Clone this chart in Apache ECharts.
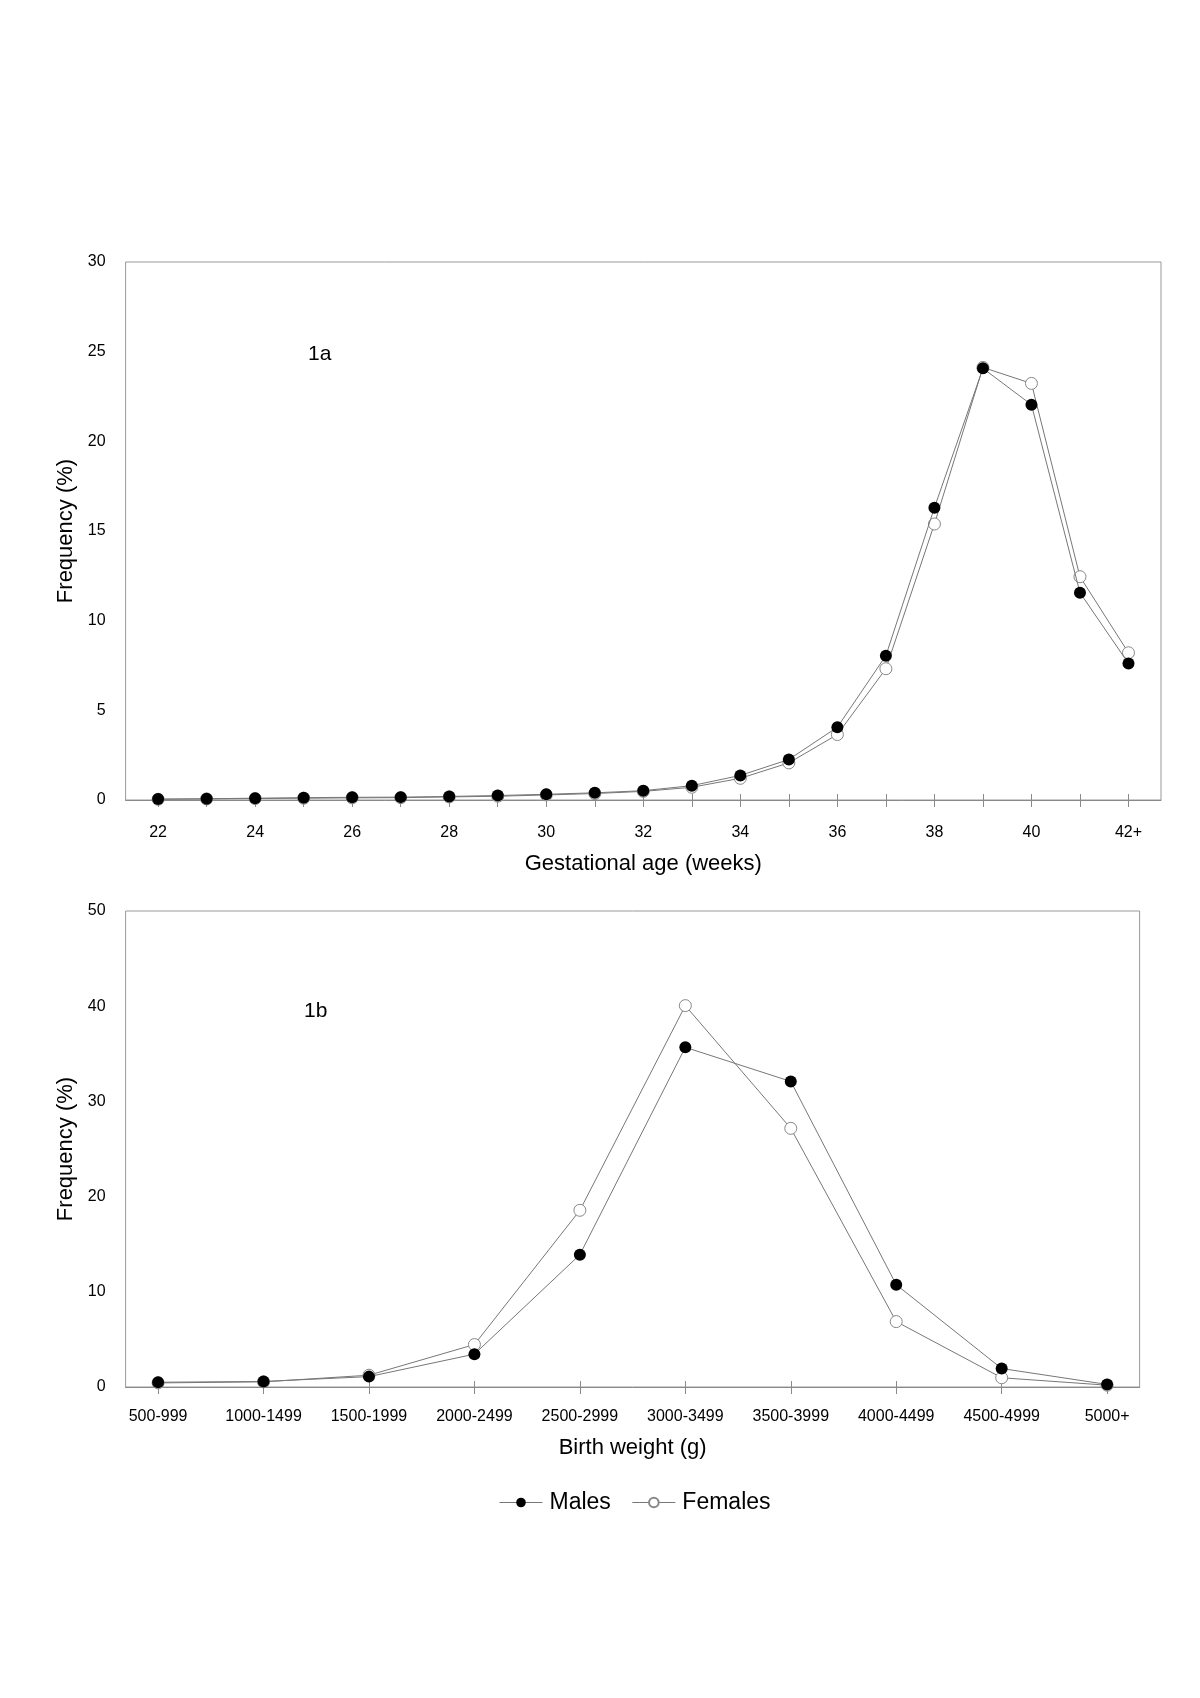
<!DOCTYPE html>
<html><head><meta charset="utf-8">
<script src="https://cdn.jsdelivr.net/npm/echarts@6/dist/echarts.min.js"></script>
<style>html,body{margin:0;padding:0;background:#fff}#c{width:1200px;height:1698px}</style>
</head><body><div id="c"></div>
<script>
// Panel 1a: gestational age
const weekLabels = ['22','23','24','25','26','27','28','29','30','31','32','33','34','35','36','37','38','39','40','41','42+'];
const weekShown = ['22','24','26','28','30','32','34','36','38','40','42+'];
const malesGA   = [0.05,0.07,0.10,0.13,0.15,0.16,0.20,0.25,0.32,0.40,0.52,0.80,1.37,2.26,4.06,8.05,16.30,24.07,22.04,11.56,7.61];
const femalesGA = [0.04,0.06,0.08,0.10,0.12,0.13,0.17,0.21,0.28,0.36,0.48,0.71,1.21,2.07,3.65,7.32,15.39,24.12,23.23,12.45,8.21];
const gaYTicks = [0,5,10,15,20,25,30];
// Panel 1b: birth weight
const bwLabels = ['500-999','1000-1499','1500-1999','2000-2499','2500-2999','3000-3499','3500-3999','4000-4499','4500-4999','5000+'];
const malesBW   = [0.50,0.58,1.09,3.45,13.9,35.68,32.1,10.75,1.94,0.27];
const femalesBW = [0.43,0.54,1.24,4.46,18.56,40.06,27.17,6.87,0.97,0.19];
const bwYTicks = [0,10,20,30,40,50];

const FONT = 'Liberation Sans, Arial, sans-serif';
const gray = '#8a8a8a';
const lineGray = '#777';

function xAxes(gridIndex, labels, shown, pad, margin, nameGap) {
  const n = labels.length;
  const all = labels.map((_, i) => i);
  const shownIdx = shown.map(s => labels.indexOf(s));
  const base = {
    type: 'value', gridIndex, position: 'bottom', min: -pad, max: n - 1 + pad,
    splitLine: { show: false }
  };
  return [
    Object.assign({}, base, {
      axisLine: { show: true, lineStyle: { color: gray, width: 1 } },
      axisTick: { show: true, inside: false, length: 7, customValues: all, lineStyle: { color: gray } },
      axisLabel: { show: true, customValues: shownIdx, margin: margin, color: '#000', fontSize: 16, fontFamily: FONT,
                   formatter: v => labels[Math.round(v)] },
      nameLocation: 'middle', nameGap: nameGap,
      nameTextStyle: { color: '#000', fontSize: 22, fontFamily: FONT }
    }),
    Object.assign({}, base, {
      axisLine: { show: false },
      axisTick: { show: true, inside: true, length: 6, customValues: all, lineStyle: { color: gray } },
      axisLabel: { show: false }
    })
  ];
}

const xa0 = xAxes(0, weekLabels, weekShown, 0.67, 25, 53);
xa0[0].name = 'Gestational age (weeks)';
const xa1 = xAxes(1, bwLabels, bwLabels, 0.308, 22, 50);
xa1[0].name = 'Birth weight (g)';

function yAxis(gridIndex, ticks) {
  return {
    type: 'value', gridIndex, min: ticks[0], max: ticks[ticks.length - 1], interval: ticks[1] - ticks[0],
    axisLine: { show: false }, axisTick: { show: false }, splitLine: { show: false },
    axisLabel: { color: '#000', fontSize: 16, fontFamily: FONT, margin: 20 },
    name: 'Frequency (%)', nameLocation: 'middle', nameGap: 48,
    nameTextStyle: { color: '#000', fontSize: 22, fontFamily: FONT }
  };
}

function ser(name, data, xi, yi, filled) {
  return {
    name, type: 'line', xAxisIndex: xi, yAxisIndex: yi,
    data: data.map((v, i) => [i, v]),
    symbol: 'circle', symbolSize: 12,
    lineStyle: { color: lineGray, width: 1 },
    itemStyle: filled ? { color: '#000', borderColor: '#000', borderWidth: 0 }
                      : { color: '#fff', borderColor: '#888', borderWidth: 1 },
    emphasis: { disabled: true }, animation: false, z: filled ? 3 : 2
  };
}

const chart = echarts.init(document.getElementById('c'), null, { renderer: 'canvas' });
chart.setOption({
  animation: false,
  backgroundColor: '#fff',
  textStyle: { fontFamily: FONT },
  grid: [
    { left: 125.6, top: 262, width: 1035.4, height: 538, show: true, borderColor: '#999', borderWidth: 1, containLabel: false },
    { left: 125.6, top: 911, width: 1014, height: 476, show: true, borderColor: '#999', borderWidth: 1, containLabel: false }
  ],
  xAxis: [...xa0, ...xa1],
  yAxis: [yAxis(0, gaYTicks), yAxis(1, bwYTicks)],
  legend: {
    left: 494, top: 1486, itemWidth: 43, itemHeight: 12, itemGap: 21,
    lineStyle: { width: 1, color: '#777' },
    textStyle: { color: '#000', fontSize: 23, fontFamily: FONT, padding: [0, 0, 0, 2] },
    data: ['Males', 'Females']
  },
  graphic: [
    { type: 'text', left: 308, top: 344, style: { text: '1a', fontSize: 21, fontFamily: FONT, fill: '#000' } },
    { type: 'text', left: 304, top: 1001, style: { text: '1b', fontSize: 21, fontFamily: FONT, fill: '#000' } }
  ],
  series: [
    ser('Females', femalesGA, 0, 0, false),
    ser('Males', malesGA, 0, 0, true),
    ser('Females', femalesBW, 2, 1, false),
    ser('Males', malesBW, 2, 1, true)
  ]
});
</script></body></html>
